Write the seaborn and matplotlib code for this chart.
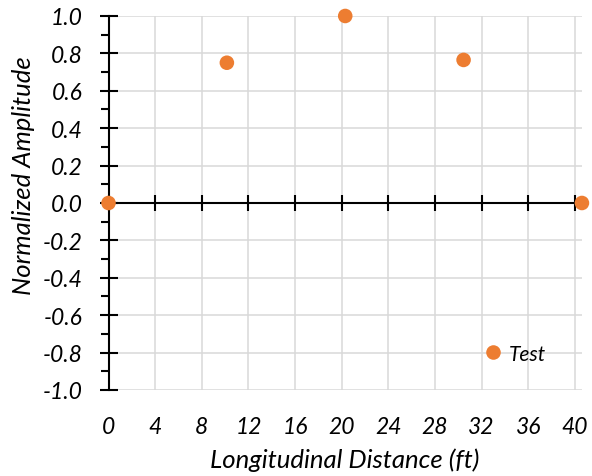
import numpy as np
import pandas as pd
import seaborn as sns
import matplotlib.pyplot as plt
from matplotlib.ticker import MultipleLocator

# values
distance_ft = [0, 10.15, 20.3, 30.45, 40.6]
amplitude = [0.0, 0.75, 1.0, 0.765, 0.0]
series_name = 'Test'
x_ticks = list(range(0, 41, 4))

df = pd.DataFrame({'dist': distance_ft, 'amp': amplitude, 'series': series_name})

sns.set_theme(style='white')
plt.rcParams['font.family'] = ['Lato', 'DejaVu Sans']
plt.rcParams['font.style'] = 'italic'
plt.rcParams['text.color'] = 'black'
plt.rcParams['xtick.color'] = 'black'
plt.rcParams['ytick.color'] = 'black'

ORANGE = '#ED7D31'
GRID = '#d9d9d9'

fig = plt.figure(figsize=(5.92, 4.77), dpi=100)
ax = fig.add_axes([0.1833, 0.1803, 0.7997, 0.7841])

ax.grid(True, color=GRID, linewidth=1.1)
ax.set_axisbelow(True)

sns.scatterplot(data=df, x='dist', y='amp', hue='series', palette=[ORANGE],
                s=110, edgecolor='none', ax=ax, zorder=5, clip_on=False)

ax.set_xlim(0, 40.6)
ax.set_ylim(-1.0, 1.0)
ax.set_xticks(x_ticks)
ax.yaxis.set_major_locator(MultipleLocator(0.2))
ax.yaxis.set_minor_locator(MultipleLocator(0.1))
ax.set_yticklabels([f'{v:.1f}' for v in ax.get_yticks()], fontsize=16.5, style='italic')

for side in ['top', 'right']:
    ax.spines[side].set_visible(False)
ax.spines['bottom'].set_position(('data', 0))
ax.spines['left'].set_color('black')
ax.spines['bottom'].set_color('black')
ax.spines['left'].set_linewidth(1.5)
ax.spines['bottom'].set_linewidth(1.5)

ax.tick_params(axis='y', which='major', direction='inout', length=13, width=1.5,
               color='black', pad=12, left=True, labelcolor='black')
ax.tick_params(axis='y', which='minor', direction='out', length=6, width=1.5,
               color='black', left=True)
ax.tick_params(axis='x', which='major', direction='inout', length=11.5, width=1.5,
               color='black', bottom=True, labelbottom=False)

# tick labels for x sit below the plot, not on the zero line
sec = ax.secondary_xaxis('bottom')
sec.set_xticks(x_ticks)
sec.set_xticklabels([str(t) for t in x_ticks], fontsize=16.5, style='italic')
sec.spines['bottom'].set_visible(False)
sec.tick_params(length=0, pad=19, labelcolor='black')

ax.set_xlabel('')
ax.set_ylabel('')
fig.text(24 / 592, 1 - 176 / 477, 'Normalized Amplitude', fontsize=18.5, style='italic',
         rotation=90, ha='center', va='center')
fig.text(345 / 592, 1 - 460 / 477, 'Longitudinal Distance (ft)', fontsize=18.5,
         style='italic', ha='center', va='center')

ax.legend(loc='center left', bbox_to_anchor=(0.728, 0.097), frameon=False,
          handletextpad=-0.25, markerscale=1.0, labelcolor='black',
          prop={'style': 'italic', 'size': 15})

fig.savefig('out.png', dpi=100)
